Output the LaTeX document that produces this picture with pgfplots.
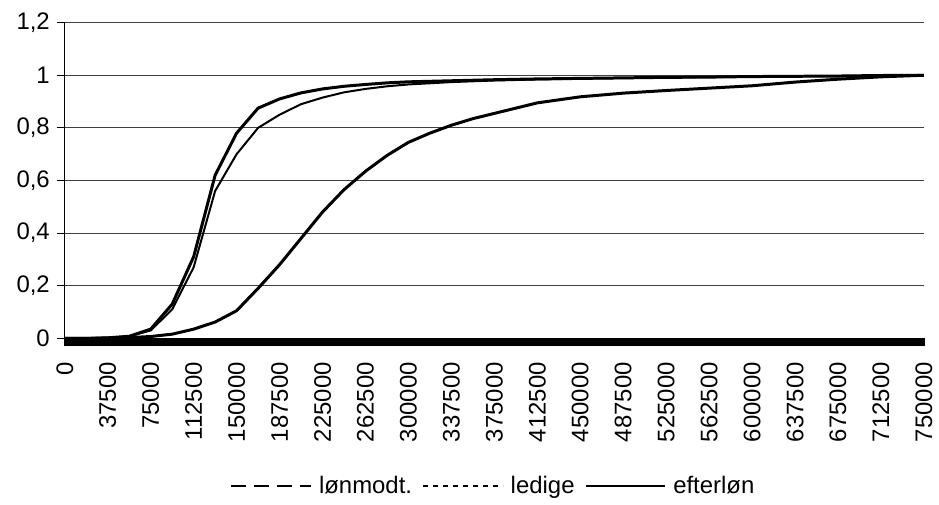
\documentclass[border=0pt]{standalone}
\usepackage{fontspec}
\setmainfont{Liberation Sans}
\usepackage{pgfplots}
\pgfplotsset{compat=1.18}
\pgfplotstableread{
x y
0 0
18750 0
37500 0.002
56250 0.008
75000 0.035
93750 0.13
112500 0.31
131250 0.62
150000 0.78
168750 0.875
187500 0.91
206250 0.933
225000 0.948
243750 0.958
262500 0.965
281250 0.971
300000 0.975
337500 0.979
375000 0.983
412500 0.986
450000 0.988
487500 0.99
525000 0.992
562500 0.993
600000 0.995
637500 0.996
675000 0.997
712500 0.999
750000 1.0
}\efterlon
\pgfplotstableread{
x y
0 0
18750 0
37500 0.002
56250 0.008
75000 0.03
93750 0.11
112500 0.27
131250 0.56
150000 0.70
168750 0.80
187500 0.85
206250 0.89
225000 0.915
243750 0.935
262500 0.948
281250 0.958
300000 0.965
337500 0.974
375000 0.98
412500 0.984
450000 0.987
487500 0.989
525000 0.991
562500 0.993
600000 0.994
637500 0.996
675000 0.997
712500 0.998
750000 1.0
}\ledige
\pgfplotstableread{
x y
0 0
18750 0
37500 0.001
56250 0.003
75000 0.007
93750 0.016
112500 0.035
131250 0.062
150000 0.105
168750 0.19
187500 0.28
206250 0.38
225000 0.48
243750 0.565
262500 0.635
281250 0.695
300000 0.745
318750 0.78
337500 0.81
356250 0.835
375000 0.855
412500 0.895
450000 0.918
487500 0.932
525000 0.942
562500 0.951
600000 0.96
637500 0.974
675000 0.985
712500 0.994
750000 1.0
}\lonmodt
\begin{document}
\begin{tikzpicture}[font=\fontsize{12}{14.4}\selectfont]
\begin{axis}[name=ax, scale only axis, width=431pt, height=158.4pt,
  xmin=0, xmax=750000, ymin=0, ymax=1.2,
  axis x line*=bottom, axis y line*=left,
  axis line style={black, line width=0.5pt},
  xtick={0,37500,75000,112500,150000,187500,225000,262500,300000,337500,375000,412500,450000,487500,525000,562500,600000,637500,675000,712500,750000},
  minor x tick num=29,
  ytick={0,0.2,0.4,0.6,0.8,1,1.2},
  ymajorgrids, major grid style={black!75, line width=0.5pt},
  tick align=outside, major tick length=4pt, minor tick length=4pt,
  x tick style={black, line width=0.8pt},
  minor x tick style={black, line width=0.8pt},
  y tick style={black, line width=0.5pt},
  scaled x ticks=false, scaled y ticks=false,
  xticklabel shift=4.5pt,
  xticklabel style={rotate=90, anchor=east, /pgf/number format/.cd, fixed, 1000 sep={}, assume math mode=true},
  yticklabel style={/pgf/number format/.cd, fixed, use comma, assume math mode=true},
  legend columns=3,
  legend style={at={(0.5,-0.469)}, anchor=center, draw=none, fill=none,
    /tikz/every odd column/.append style={column sep=1.5pt},
    /tikz/every even column/.append style={column sep=3pt}},
  legend image code/.code={\draw[#1] (0pt,0pt) -- (40pt,0pt);},
]
\addplot[black, line width=1.5pt, line join=round, forget plot] table[x=x,y=y] {\lonmodt};
\addplot[black, line width=1pt, line join=round, forget plot] table[x=x,y=y] {\ledige};
\addplot[black, line width=1.5pt, line join=round, forget plot] table[x=x,y=y] {\efterlon};
\addlegendimage{black, line width=1pt, dash pattern=on 7.5pt off 4pt}
\addlegendentry{lønmodt.}
\addlegendimage{black, line width=1pt, dash pattern=on 2.5pt off 2.5pt}
\addlegendentry{ledige}
\addlegendimage{black, line width=1pt}
\addlegendentry{efterløn}
\end{axis}
\path (ax.south west) ++(-32.5pt,-80.25pt) rectangle ([xshift=6pt,yshift=11.35pt]ax.north east);
\end{tikzpicture}
\end{document}
